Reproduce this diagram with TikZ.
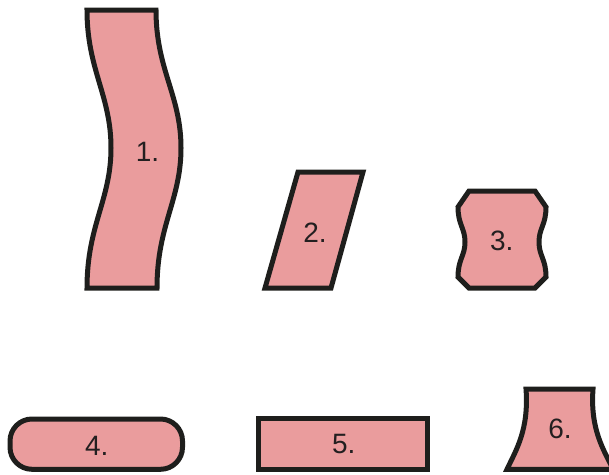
\documentclass[tikz,border=0pt]{standalone}
\usepackage{fontspec}
\setmainfont{Liberation Sans}
\definecolor{shapefill}{HTML}{EA9C9D}
\definecolor{shapeline}{HTML}{1E1E1C}
\definecolor{labelcol}{HTML}{231F20}
\begin{document}
\begin{tikzpicture}[x=1pt,y=-1pt,
  shp/.style={fill=shapefill,draw=shapeline,line width=5pt,line join=miter},
  lbl/.style={anchor=base,inner sep=0pt,text=labelcol,font=\fontsize{28}{32}\selectfont}]
\useasboundingbox (0,0) rectangle (609,474);
% 1. wavy strip
\draw[shp] (87,10) -- (156,10)
  .. controls (156,70) and (181,95) .. (181,148)
  .. controls (181,200) and (157,225) .. (157,288)
  -- (87,288)
  .. controls (87,225) and (111,200) .. (111,148)
  .. controls (111,95) and (87,70) .. (87,10) -- cycle;
% 2. parallelogram
\draw[shp] (298,172) -- (363,172) -- (331,288) -- (265,288) -- cycle;
% 3. wavy-sided box
\draw[shp] (469,191) -- (535,191) -- (546,207)
  .. controls (546,225) and (539,228) .. (539,242)
  .. controls (539,256) and (546,259) .. (546,277)
  -- (535,288) -- (469,288) -- (458,277)
  .. controls (458,259) and (465,256) .. (465,242)
  .. controls (465,228) and (458,225) .. (458,207) -- cycle;
% 4. rounded box
\draw[shp,rounded corners=22pt] (10,419) rectangle (182.5,469.3);
% 5. rectangle
\draw[shp] (258.3,418.3) rectangle (427.7,469.3);
% 6. flared trapezoid
\draw[shp] (526,389) -- (593,389)
  .. controls (590,430) and (604,450) .. (613,469.3)
  -- (507,469.3)
  .. controls (516,450) and (529,430) .. (526,389) -- cycle;
% labels
\node[lbl] (l1) at (147.5,161) {1.};
\node[lbl] (l2) at (315,242) {2.};
\node[lbl] (l3) at (501.7,250) {3.};
\node[lbl] (l4) at (96.7,455) {4.};
\node[lbl] (l5) at (343.8,453.3) {5.};
\node[lbl] (l6) at (560,438.3) {6.};
\end{tikzpicture}
\end{document}
